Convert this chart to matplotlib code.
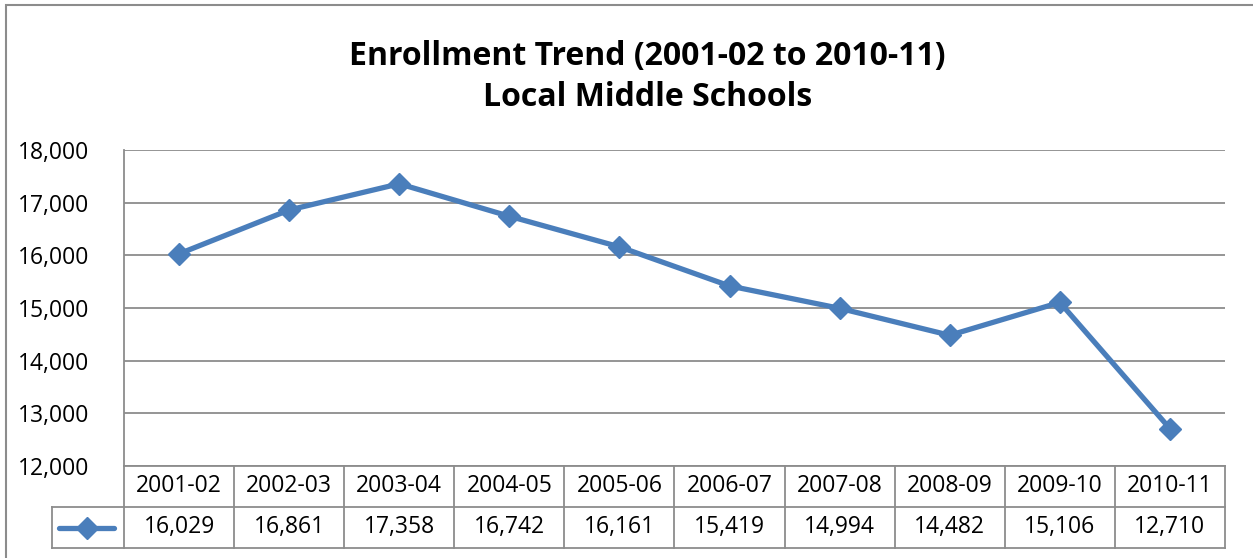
import numpy as np
import matplotlib.pyplot as plt
from matplotlib.lines import Line2D
from matplotlib.patches import Rectangle

plt.rcParams['font.family'] = ['Open Sans', 'DejaVu Sans']

# data
years = ['2001-02', '2002-03', '2003-04', '2004-05', '2005-06',
         '2006-07', '2007-08', '2008-09', '2009-10', '2010-11']
enrollment = [16029, 16861, 17358, 16742, 16161, 15419, 14994, 14482, 15106, 12710]
y_ticks = [12000, 13000, 14000, 15000, 16000, 17000, 18000]

W, H = 1253, 558
blue = '#4a7ebb'
grey = '#8c8c8c'
fs = 16.5


def fx(px):
    return px / W


def fy(py):
    return 1 - py / H


fig = plt.figure(figsize=(W / 100, H / 100), dpi=100)

# outer chart border (left and top visible, rest cut off)
fig.add_artist(Rectangle((fx(6), fy(560)), fx(1300), 555 / H, transform=fig.transFigure,
                         fill=False, edgecolor=grey, lw=1.5))

fig.text(0.5 * (350 + 945) / W, fy(56), 'Enrollment Trend (2001-02 to 2010-11)',
         ha='center', va='center', fontsize=23, fontweight='bold')
fig.text(0.5 * (350 + 945) / W, fy(98), 'Local Middle Schools',
         ha='center', va='center', fontsize=23, fontweight='bold')

left, right, top, bottom = 124, 1225, 150, 466
ax = fig.add_axes([fx(left), fy(bottom), fx(right - left), (bottom - top) / H])
x = np.arange(len(years))
ax.plot(x, enrollment, color=blue, lw=3.8, marker='D', markersize=11, zorder=3)
ax.set_xlim(-0.5, len(years) - 0.5)
ax.set_ylim(y_ticks[0], y_ticks[-1])
ax.set_yticks(y_ticks)
ax.set_yticklabels([f'{v:,}' for v in y_ticks])
ax.yaxis.grid(True, color=grey, lw=1.3)
ax.set_xticks([])
ax.tick_params(axis='y', length=0, pad=25, labelsize=fs)
for s in ['top', 'right', 'bottom']:
    ax.spines[s].set_visible(False)
ax.spines['left'].set_color(grey)
ax.spines['left'].set_linewidth(1.3)

# data table under the plot
cell_w = (right - left) / len(years)
leg_left = 52
row1, row2, row3 = 466, 507, 548
tax = fig.add_axes([fx(leg_left), fy(row3), fx(right - leg_left), (row3 - row1) / H])
tax.set_xlim(-0.5 - (left - leg_left) / cell_w, len(years) - 0.5)
tax.set_ylim(0, 2)
tax.axis('off')
lx0 = tax.get_xlim()[0]
kw = dict(color=grey, lw=1.3, clip_on=False)
tax.plot([-0.5, len(years) - 0.5], [2, 2], **kw)
tax.plot([lx0, len(years) - 0.5], [1, 1], **kw)
tax.plot([lx0, len(years) - 0.5], [0, 0], **kw)
tax.plot([lx0] * 2, [0, 1], **kw)
for i in range(len(years) + 1):
    tax.plot([i - 0.5, i - 0.5], [0, 2], **kw)
for i, (yr, v) in enumerate(zip(years, enrollment)):
    tax.text(i, 1.5, yr, ha='center', va='center', fontsize=fs)
    tax.text(i, 0.5, f'{v:,}', ha='center', va='center', fontsize=fs)

# legend key in the table
kx = [lx0 + 0.1 * (-0.5 - lx0), -0.5 - 0.14 * (-0.5 - lx0)]
tax.add_line(Line2D(kx, [0.5, 0.5], color=blue, lw=3.8, solid_capstyle='round'))
tax.add_line(Line2D([np.mean(kx)], [0.5], color=blue, marker='D', markersize=11, lw=0))

fig.savefig('out.png', dpi=100)
